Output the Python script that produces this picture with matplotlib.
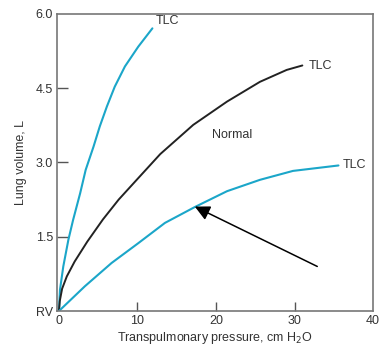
import numpy as np
import matplotlib.pyplot as plt

plt.rcParams['font.family'] = ['Liberation Sans', 'DejaVu Sans']

# curves (x = cm H2O, y = litres above RV)
steep_x = [0, 0.13, 0.55, 1.2, 1.8, 2.7, 3.4, 4.4, 5.2, 6.1, 7.1, 8.4, 10.1, 11.9]
steep_y = [0, 0.43, 0.9, 1.44, 1.84, 2.38, 2.85, 3.32, 3.73, 4.13, 4.53, 4.94, 5.34, 5.71]
normal_x = [0, 0.1, 0.4, 1.0, 2.0, 3.6, 5.6, 7.6, 9.9, 12.9, 17.1, 21.4, 25.6, 29.0, 31.0]
normal_y = [0, 0.2, 0.45, 0.7, 1.0, 1.4, 1.85, 2.25, 2.65, 3.17, 3.76, 4.23, 4.63, 4.87, 4.96]
stiff_x = [0, 3.3, 6.7, 10.1, 13.5, 17.3, 21.4, 25.6, 29.8, 35.6]
stiff_y = [0, 0.5, 0.97, 1.37, 1.78, 2.1, 2.42, 2.65, 2.83, 2.94]

xticks = [0, 10, 20, 30, 40]
yticks = [0, 1.5, 3.0, 4.5, 6.0]
ytick_labels = ['RV', '1.5', '3.0', '4.5', '6.0']

arrow_tail = (32.9, 0.9)
arrow_tip = (17.3, 2.11)

cyan = '#1ba6c9'
txt = '#333333'

fig = plt.figure(figsize=(3.91, 3.48), dpi=100)
ax = fig.add_axes([0.1458, 0.1063, 0.8082, 0.8535])

ax.plot(steep_x, steep_y, color=cyan, lw=1.5, solid_capstyle='round', solid_joinstyle='round')
ax.plot(normal_x, normal_y, color='#222222', lw=1.4, solid_capstyle='round', solid_joinstyle='round')
ax.plot(stiff_x, stiff_y, color=cyan, lw=1.5, solid_capstyle='round', solid_joinstyle='round')

ax.text(12.3, 5.86, 'TLC', fontsize=9, color=txt, va='center', ha='left')
ax.text(31.8, 4.95, 'TLC', fontsize=9, color=txt, va='center', ha='left')
ax.text(36.1, 2.94, 'TLC', fontsize=9, color=txt, va='center', ha='left', clip_on=False)
ax.text(22.0, 3.56, 'Normal', fontsize=9, color=txt, va='center', ha='center')

ax.annotate('', xy=arrow_tip, xytext=arrow_tail,
            arrowprops=dict(arrowstyle='-|>,head_length=0.9,head_width=0.45',
                            color='black', lw=1.1, shrinkA=0, shrinkB=0))

ax.set_xlim(-0.25, 40)
ax.set_ylim(0, 6)
ax.set_xticks(xticks)
ax.set_yticks(yticks)
ax.set_yticklabels(ytick_labels)
ax.tick_params(axis='both', direction='in', colors='#555555', labelcolor=txt,
               labelsize=9, width=1)
ax.tick_params(axis='y', length=8, pad=3)
ax.tick_params(axis='x', length=6.5, pad=3)
for t in (ax.xaxis.get_major_ticks()[0], ax.xaxis.get_major_ticks()[-1],
          ax.yaxis.get_major_ticks()[0], ax.yaxis.get_major_ticks()[-1]):
    t.tick1line.set_visible(False)

for s in ax.spines.values():
    s.set_color('#777777')
    s.set_linewidth(1.2)

ax.set_xlabel('Transpulmonary pressure, cm H$_2$O', fontsize=9, color=txt, labelpad=2)
ax.set_ylabel('Lung volume, L', fontsize=9, color=txt, labelpad=6)

fig.savefig('out.png', dpi=100)
